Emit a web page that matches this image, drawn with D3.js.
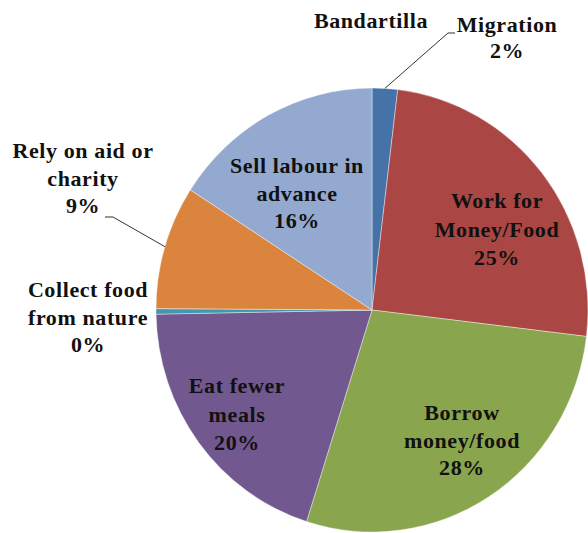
<!DOCTYPE html>
<html>
<head>
<meta charset="utf-8">
<script src="https://cdn.jsdelivr.net/npm/d3@7"></script>
<style>
  body { margin: 0; background: #fff; }
</style>
</head>
<body>
<div id="chart"></div>
<script>
// chart data
var categories = ["Migration", "Work for Money/Food", "Borrow money/food", "Eat fewer meals",
                  "Collect food from nature", "Rely on aid or charity", "Sell labour in advance"];
var values = [1.9, 25.0, 28.0, 19.8, 0.4, 9.0, 15.9];
var pctLabels = ["2%", "25%", "28%", "20%", "0%", "9%", "16%"];
var colors = ["#4572A7", "#AA4643", "#89A54E", "#71588F", "#4198AF", "#DB843D", "#93A9CF"];
var title = "Bandartilla";

var svgWidth = 588;
var svgHeight = 533;
var cx = 372, cy = 310;
var rx = 216, ry = 222;
var fontFam = "'Liberation Serif', Tinos, monospace";

var svg = d3.select("#chart")
  .append("svg")
  .attr("width", svgWidth)
  .attr("height", svgHeight);

var pie = d3.pie().sort(null).value(d => d);
var arcs = pie(values);

var arc = d3.arc().innerRadius(0).outerRadius(rx);

// pie group, squashed a little vertically like the original
var pieGroup = svg.append("g")
  .attr("transform", `translate(${cx}, ${cy}) scale(1, ${ry / rx})`);

pieGroup.selectAll("path")
  .data(arcs)
  .enter()
  .append("path")
  .attr("d", arc)
  .attr("fill", (d, i) => colors[i])
  .attr("stroke", "#ffffff")
  .attr("stroke-width", 0.4);

// label layout: lines of text, centre x, first baseline, line step
var labelLines = [
  ["Migration", pctLabels[0]],
  ["Work for", "Money/Food", pctLabels[1]],
  ["Borrow", "money/food", pctLabels[2]],
  ["Eat fewer", "meals", pctLabels[3]],
  ["Collect food", "from nature", pctLabels[4]],
  ["Rely on aid or", "charity", pctLabels[5]],
  ["Sell labour in", "advance", pctLabels[6]]
];
var labelPos = [
  [507, 32, 26],
  [497, 208, 28.5],
  [462, 420, 27.5],
  [237, 393, 28.5],
  [88, 297, 27.5],
  [83, 158, 27.5],
  [297, 173, 27.5]
];

function styleText(sel) {
  return sel
    .attr("font-family", fontFam)
    .attr("font-weight", "bold")
    .attr("font-size", 22)
    .attr("letter-spacing", 0.6)
    .attr("fill", "#111");
}

labelLines.forEach(function(lines, i) {
  var t = svg.append("text")
    .attr("text-anchor", "middle")
    .call(styleText);
  lines.forEach(function(line, j) {
    t.append("tspan")
      .attr("x", labelPos[i][0])
      .attr("y", labelPos[i][1] + j * labelPos[i][2])
      .text(line);
  });
});

// title
svg.append("text")
  .attr("x", 371)
  .attr("y", 28)
  .attr("text-anchor", "middle")
  .call(styleText)
  .text(title);

// leader lines for outside labels
function edgePoint(d) {
  var a = (d.startAngle + d.endAngle) / 2;
  return [cx + rx * Math.sin(a), cy - ry * Math.cos(a)];
}
var leaders = [
  { idx: 0, elbow: [448, 33], end: [455, 33] },
  { idx: 5, elbow: [113, 217], end: [105, 217] }
];
leaders.forEach(function(l) {
  var p = edgePoint(arcs[l.idx]);
  svg.append("polyline")
    .attr("points", [p, l.elbow, l.end].map(q => q.join(",")).join(" "))
    .attr("fill", "none")
    .attr("stroke", "#333")
    .attr("stroke-width", 1);
});
</script>
</body>
</html>
